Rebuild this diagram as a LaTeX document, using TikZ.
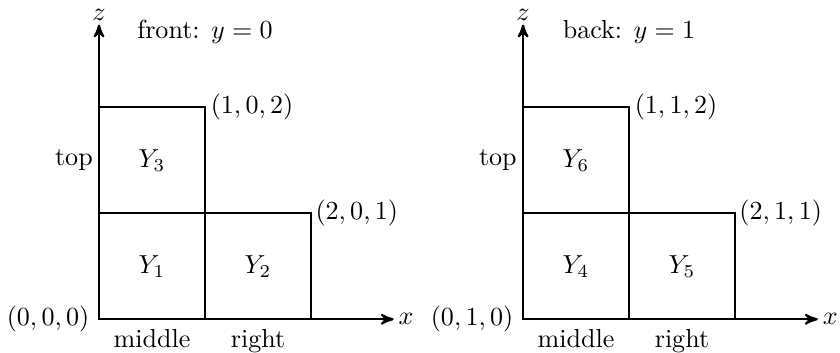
\documentclass[tikz,border=0pt]{standalone}
\usetikzlibrary{arrows}
\begin{document}
\begin{tikzpicture}[scale=1.43, thick, >=stealth']
	\useasboundingbox (-0.934,-0.318) rectangle (6.991,3.012);
	% front: y=0
	\coordinate (O1) at (0,0); \coordinate (X1) at (2.78,0); \coordinate (Z1) at (0,2.78);
	\draw (0,0) rectangle (1,1); \draw (1,0) rectangle (2,1); \draw (0,1) rectangle (1,2);
	\draw[->] (O1) -- (X1); \draw[->] (O1) -- (Z1);
	\node[right,inner sep=1.5pt] (x1) at (X1) {$x$}; \node[above,inner sep=1pt] (z1) at (Z1) {$z$};
	\node (front) at (1,2.71) {front: $y=0$};
	\node (Y1) at (0.5,0.5) {$Y_1$}; \node (Y2) at (1.5,0.5) {$Y_2$}; \node (Y3) at (0.5,1.5) {$Y_3$};
	\node[left] (p000) at (O1) {$(0,0,0)$}; \node[right,xshift=-1.5pt] (p102) at (1,2) {$(1,0,2)$}; \node[right,xshift=-2pt] (p201) at (2,1) {$(2,0,1)$};
	\node[left,inner sep=2pt] (top1) at (0,1.5) {top}; \node[below] (mid1) at (0.5,0) {middle}; \node[below] (right1) at (1.5,0) {right};
	% back: y=1
	\coordinate (O2) at (4,0); \coordinate (X2) at (4+2.78,0); \coordinate (Z2) at (4,2.78);
	\draw (4,0) rectangle (4+1,1); \draw (4+1,0) rectangle (4+2,1); \draw (4,1) rectangle (4+1,2);
	\draw[->] (O2) -- (X2); \draw[->] (O2) -- (Z2);
	\node[right,inner sep=1.5pt] (x2) at (X2) {$x$}; \node[above,inner sep=1pt] (z2) at (Z2) {$z$};
	\node (back) at (4+1,2.71) {back: $y=1$};
	\node (Y4) at (4+0.5,0.5) {$Y_4$}; \node (Y5) at (4+1.5,0.5) {$Y_5$}; \node (Y6) at (4+0.5,1.5) {$Y_6$};
	\node[left] (p010) at (O2) {$(0,1,0)$}; \node[right,xshift=-1.5pt] (p112) at (4+1,2) {$(1,1,2)$}; \node[right,xshift=-2pt] (p211) at (4+2,1) {$(2,1,1)$};
	\node[left,inner sep=2pt] (top2) at (4,1.5) {top}; \node[below] (mid2) at (4+0.5,0) {middle}; \node[below] (right2) at (4+1.5,0) {right};
\end{tikzpicture}
\end{document}
